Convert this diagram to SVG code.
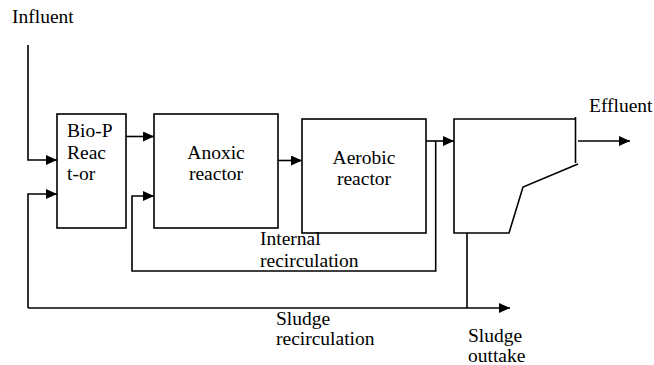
<svg xmlns="http://www.w3.org/2000/svg" width="654" height="365" viewBox="0 0 654 365">
<defs>
<marker id="arr" markerWidth="11" markerHeight="10" refX="11" refY="5" orient="auto" markerUnits="userSpaceOnUse">
<path d="M0,0 L11,5 L0,10 z" fill="#000"/>
</marker>
<style>
.box{fill:none;stroke:#000;stroke-width:1.6}
.ln{fill:none;stroke:#000;stroke-width:1.6}
.t{font-family:"Liberation Serif","Times New Roman",serif;font-size:19.5px;fill:#000}
.c{text-anchor:middle}
</style>
</defs>
<rect width="654" height="365" fill="#fff"/>
<g id="connectors">
<path class="ln" d="M28,45 V160 H57" marker-end="url(#arr)"/>
<path class="ln" d="M126,136.5 H154" marker-end="url(#arr)"/>
<path class="ln" d="M278,160.5 H302" marker-end="url(#arr)"/>
<path class="ln" d="M426,141 H454" marker-end="url(#arr)"/>
<path class="ln" d="M578,141 H630" marker-end="url(#arr)"/>
<path class="ln" d="M435.7,141 V271 H132 V196 H154" marker-end="url(#arr)"/>
<path class="ln" d="M28,308 V194 H57" marker-end="url(#arr)"/>
<path class="ln" d="M28,308 H510" marker-end="url(#arr)"/>
<path class="ln" d="M467,233 V308"/>
</g>
<g id="bio-p">
<rect class="box" x="57" y="114" width="69" height="114"/>
<text class="t" x="67" y="137">Bio-P</text>
<text class="t" x="67" y="159">Reac</text>
<text class="t" x="67" y="180">t-or</text>
</g>
<g id="anoxic">
<rect class="box" x="154" y="114" width="124" height="114"/>
<text class="t c" x="216" y="159">Anoxic</text>
<text class="t c" x="216" y="180">reactor</text>
</g>
<g id="aerobic">
<rect class="box" x="302" y="119" width="124" height="114"/>
<text class="t c" x="364" y="164">Aerobic</text>
<text class="t c" x="364" y="185">reactor</text>
</g>
<g id="clarifier">
<path class="box" d="M575.5,117 V163 M578,164 L523,187 L509,233 H454 V119 H576"/>
</g>
<g id="labels">
<text class="t" x="12" y="23">Influent</text>
<text class="t" x="589" y="112">Effluent</text>
<text class="t" x="260" y="245">Internal</text>
<text class="t" x="260" y="267">recirculation</text>
<text class="t" x="276" y="325">Sludge</text>
<text class="t" x="276" y="345">recirculation</text>
<text class="t" x="468" y="342">Sludge</text>
<text class="t" x="468" y="362">outtake</text>
</g>
</svg>
